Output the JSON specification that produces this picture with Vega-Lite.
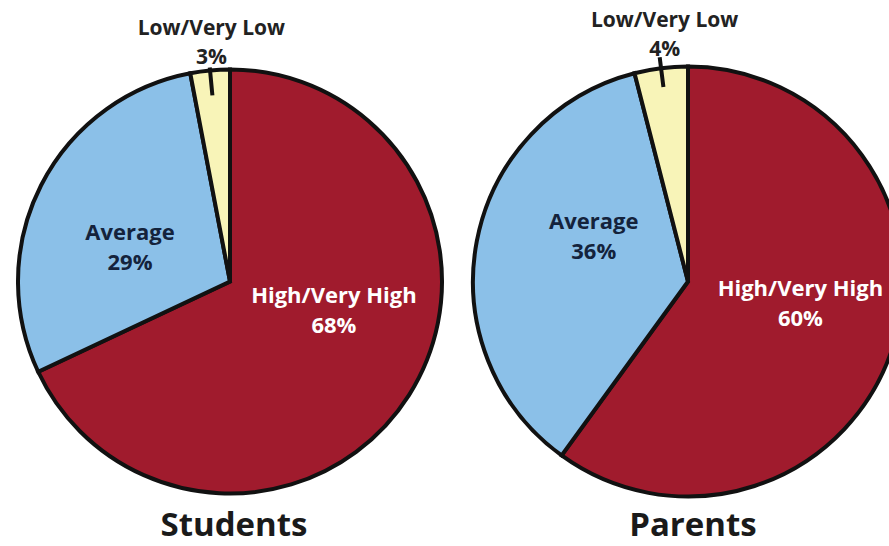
{
  "$schema": "https://vega.github.io/schema/vega-lite/v6.json",
  "padding": 0,
  "spacing": 0,
  "background": "white",
  "config": {"view": {"stroke": null}, "font": "Open Sans", "concat": {"spacing": 0}},
  "data": {"values": [
    {"who": "Students", "cat": "High/Very High", "pct": 68},
    {"who": "Students", "cat": "Average", "pct": 29},
    {"who": "Students", "cat": "Low/Very Low", "pct": 3},
    {"who": "Parents", "cat": "High/Very High", "pct": 60},
    {"who": "Parents", "cat": "Average", "pct": 36},
    {"who": "Parents", "cat": "Low/Very Low", "pct": 4}
  ]},
  "hconcat": [
    {
      "width": 460,
      "height": 563,
      "title": {"text": "Students", "orient": "bottom", "offset": -27, "baseline": "alphabetic", "anchor": "middle", "dx": 4, "fontSize": 33, "font": "Open Sans", "fontWeight": "bold", "color": "#1a1a1a"},
      "transform": [
        {"filter": "datum.who === 'Students'"},
        {"stack": "pct", "groupby": [], "sort": [{"field": "pct", "order": "descending"}], "as": ["s0", "s1"]},
        {"calculate": "(datum.s0 + datum.s1) / 2", "as": "mid"},
        {"calculate": "datum.cat + '\\n' + datum.pct + '%'", "as": "label"}
      ],
      "layer": [
        {
          "mark": {"type": "arc", "outerRadius": 212, "stroke": "#111111", "strokeWidth": 4, "strokeJoin": "miter"},
          "encoding": {
            "theta": {"field": "s0", "type": "quantitative", "scale": {"domain": [0, 100]}},
            "theta2": {"field": "s1"},
            "color": {"field": "cat", "type": "nominal", "legend": null,
              "scale": {"domain": ["High/Very High", "Average", "Low/Very Low"], "range": ["#A01B2D", "#8BC0E8", "#F8F4B8"]}}
          }
        },
        {
          "transform": [{"filter": "datum.cat === 'Low/Very Low'"}],
          "mark": {"type": "arc", "outerRadius": 215, "innerRadius": 187, "stroke": "#111111", "strokeWidth": 4, "strokeCap": "butt", "fill": null},
          "encoding": {
            "theta": {"field": "mid", "type": "quantitative"},
            "theta2": {"field": "mid"}
          }
        },
        {
          "transform": [{"filter": "datum.cat === 'High/Very High'"}],
          "mark": {"type": "text", "radius": 110, "dx": 11, "dy": -44, "fontSize": 22, "fontWeight": "bold", "font": "Open Sans", "fill": "#FFFFFF", "lineBreak": "\n", "lineHeight": 30, "baseline": "middle", "align": "center"},
          "encoding": {"theta": {"field": "mid", "type": "quantitative"}, "text": {"field": "label"}}
        },
        {
          "transform": [{"filter": "datum.cat === 'Average'"}],
          "mark": {"type": "text", "radius": 110, "dx": -2, "dy": 1, "fontSize": 22, "fontWeight": "bold", "font": "Open Sans", "fill": "#14233C", "lineBreak": "\n", "lineHeight": 30, "baseline": "middle", "align": "center"},
          "encoding": {"theta": {"field": "mid", "type": "quantitative"}, "text": {"field": "label"}}
        },
        {
          "transform": [{"filter": "datum.cat === 'Low/Very Low'"}],
          "mark": {"type": "text", "radius": 240, "dx": 4, "dy": -14, "fontSize": 21, "fontWeight": "bold", "font": "Open Sans", "fill": "#222222", "lineBreak": "\n", "lineHeight": 29, "baseline": "middle", "align": "center"},
          "encoding": {"theta": {"field": "mid", "type": "quantitative"}, "text": {"field": "label"}}
        }
      ]
    },
    {
      "width": 456,
      "height": 563,
      "title": {"text": "Parents", "orient": "bottom", "offset": -27, "baseline": "alphabetic", "anchor": "middle", "dx": 5, "fontSize": 33, "font": "Open Sans", "fontWeight": "bold", "color": "#1a1a1a"},
      "transform": [
        {"filter": "datum.who === 'Parents'"},
        {"stack": "pct", "groupby": [], "sort": [{"field": "pct", "order": "descending"}], "as": ["s0", "s1"]},
        {"calculate": "(datum.s0 + datum.s1) / 2", "as": "mid"},
        {"calculate": "datum.cat + '\\n' + datum.pct + '%'", "as": "label"}
      ],
      "layer": [
        {
          "mark": {"type": "arc", "outerRadius": 215, "stroke": "#111111", "strokeWidth": 4, "strokeJoin": "miter"},
          "encoding": {
            "theta": {"field": "s0", "type": "quantitative", "scale": {"domain": [0, 100]}},
            "theta2": {"field": "s1"},
            "color": {"field": "cat", "type": "nominal", "legend": null,
              "scale": {"domain": ["High/Very High", "Average", "Low/Very Low"], "range": ["#A01B2D", "#8BC0E8", "#F8F4B8"]}}
          }
        },
        {
          "transform": [{"filter": "datum.cat === 'Low/Very Low'"}],
          "mark": {"type": "arc", "outerRadius": 226, "innerRadius": 196, "stroke": "#111111", "strokeWidth": 4, "strokeCap": "butt", "fill": null},
          "encoding": {
            "theta": {"field": "mid", "type": "quantitative"},
            "theta2": {"field": "mid"}
          }
        },
        {
          "transform": [{"filter": "datum.cat === 'High/Very High'"}],
          "mark": {"type": "text", "radius": 115, "dx": 3, "dy": -28, "fontSize": 22, "fontWeight": "bold", "font": "Open Sans", "fill": "#FFFFFF", "lineBreak": "\n", "lineHeight": 30, "baseline": "middle", "align": "center"},
          "encoding": {"theta": {"field": "mid", "type": "quantitative"}, "text": {"field": "label"}}
        },
        {
          "transform": [{"filter": "datum.cat === 'Average'"}],
          "mark": {"type": "text", "radius": 100, "dx": 4, "dy": -41, "fontSize": 22, "fontWeight": "bold", "font": "Open Sans", "fill": "#14233C", "lineBreak": "\n", "lineHeight": 30, "baseline": "middle", "align": "center"},
          "encoding": {"theta": {"field": "mid", "type": "quantitative"}, "text": {"field": "label"}}
        },
        {
          "transform": [{"filter": "datum.cat === 'Low/Very Low'"}],
          "mark": {"type": "text", "radius": 250, "dx": 8, "dy": -12, "fontSize": 21, "fontWeight": "bold", "font": "Open Sans", "fill": "#222222", "lineBreak": "\n", "lineHeight": 29, "baseline": "middle", "align": "center"},
          "encoding": {"theta": {"field": "mid", "type": "quantitative"}, "text": {"field": "label"}}
        }
      ]
    }
  ]
}
